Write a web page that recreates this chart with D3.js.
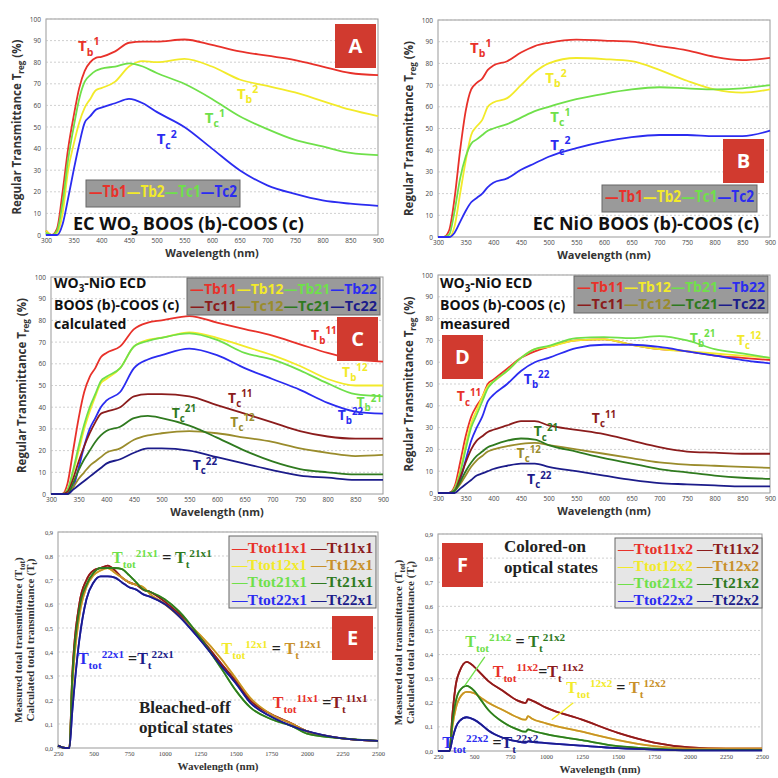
<!DOCTYPE html><html><head><meta charset="utf-8">
<script src="https://cdn.jsdelivr.net/npm/d3@7"></script>
<style>body{margin:0;background:#fff}</style></head><body>
<svg id="c" width="778" height="778"></svg>
<script>
const wlAB=[300,310,320,330,340,350,360,370,380,390,400,425,450,475,500,550,600,650,700,750,800,850,900];
const wlCD=[300,320,330,340,350,360,370,380,390,400,425,450,475,500,550,600,650,700,750,800,850,900];
const wlE=[250,300,330,350,400,450,500,550,600,650,700,750,800,850,900,1000,1100,1250,1400,1500,1600,1750,1900,2000,2250,2500];
const wlF=[250,330,350,375,400,450,500,550,600,700,800,850,860,875,900,1000,1250,1500,1750,2000,2250,2500];
const A_Tb1=[2,0,3,20,40,55,68,76,80,82,82.5,85,89,89.5,89.5,90.5,88,85,83,81,78,75,74];
const A_Tb2=[2,0,1,10,30,42,52,59,63,67,68,71,78,80.5,80,81.5,78,72,69,66,62,58,55];
const A_Tc1=[1,0,2,15,35,50,63,71,74,76,77,78,79.5,78,75,70,63,55,49,44,41,38,37];
const A_Tc2=[0,0,0,5,17,30,42,52,55,58,59,61,63,61,57,50,40,30,23,19,16,14.5,13.5];
const B_Tb1=[0,0,3,18,40,58,68,71,73,77,79,81,85,88,89.5,91,90.5,90,88,86,83,81.5,82.5];
const B_Tb2=[0,0,0,5,20,35,47,51,54,60,62,64,70,76,80,82.5,82,81,77,72,68,66.5,68];
const B_Tc1=[0,0,1,12,27,37,43,45,47,49,50,52,55,58,60,63.5,66,68,69,68.5,68,68.5,70];
const B_Tc2=[0,0,0,2,7,12,16,18,20,23,25,27,31,34,37,41,44,46,47,47,46.5,46.5,49];
const C_Tb11=[0,0,5,20,35,47,54,58,63,65,68,76,79,80,82,79,76,73,69,65,62,61];
const C_Tb12=[0,0,2,10,20,30,38,45,51,53,58,68,71,72,74.5,72,68,64,59,53,50,50];
const C_Tb21=[0,0,2,11,22,32,40,46,52,54,58,68,70.5,72,74,71,65,62,57,51,46,45];
const C_Tb22=[0,0,0,3,12,22,30,35,40,43,47,58,62,64,67,64,58,53,48,42,38,37];
const C_Tc11=[0,0,1,7,15,22,28,33,37,38,40,45,46,46,45,41,37,33,29,26.5,25.5,25.5];
const C_Tc12=[0,0,0,3,7,10,13,15,17,19,21,25,27,28,29,28,26,24,21,19,17.5,18];
const C_Tc21=[0,0,0,5,11,16,20,24,27,29,31,35,36,35,31.5,26,20,15,11.5,10,9,9];
const C_Tc22=[0,0,0,2,4,6,8,10,12,14,16,19,21,21,20,17,14,11,8.5,7.5,6.5,6.5];
const D_Tb11=[0,0,3,14,26,35,40,44,50,52,57,62,65,67,70,70.5,68,66,65,63,62,61];
const D_Tb12=[0,0,2,10,22,32,38,44,49,51,56,62,66,67,70,70.5,68,66,65,64,63,62];
const D_Tb21=[0,0,2,9,20,30,36,42,48,51,56,62,66,67.5,71,71.5,71,72,70,66,64,62];
const D_Tb22=[0,0,1,6,15,24,30,35,42,45,50,56,60,62,66.5,68,68,67,65,63,61,59.5];
const D_Tc11=[0,0,1,7,14,20,24,26,28,29,31,33,33,31,29,27,24,21,19,18.5,18,18];
const D_Tc12=[0,0,1,4,8,12,15,17,19,20,21.5,22.5,23,22,20,18,16,14,13,12.5,12,11.5];
const D_Tc21=[0,0,1,5,10,14,17,19,21,22,24,25,24.5,22,19,16,13.5,11,9.5,8,7,6.5];
const D_Tc22=[0,0,0,2,4,6,8,9,10,11,12.5,13.5,13.5,12,10,8,6,4.5,4,3.5,3,3];
const E_11=[0.01,0,0,0.3,0.6,0.7,0.74,0.75,0.76,0.74,0.71,0.69,0.68,0.66,0.65,0.61,0.56,0.46,0.35,0.28,0.2,0.14,0.1,0.07,0.04,0.03];
const E_12=[0.01,0,0,0.25,0.55,0.67,0.72,0.74,0.75,0.73,0.71,0.69,0.68,0.67,0.64,0.6,0.55,0.47,0.37,0.29,0.21,0.14,0.1,0.07,0.04,0.03];
const E_21=[0.01,0,0,0.28,0.58,0.68,0.73,0.75,0.75,0.75,0.745,0.72,0.69,0.66,0.65,0.62,0.57,0.46,0.33,0.24,0.17,0.12,0.09,0.06,0.04,0.03];
const E_22=[0.01,0,0,0.15,0.45,0.62,0.69,0.715,0.715,0.71,0.69,0.67,0.66,0.64,0.63,0.6,0.55,0.45,0.34,0.27,0.19,0.13,0.09,0.07,0.04,0.03];
const F_11=[0,0,0.15,0.28,0.33,0.37,0.35,0.32,0.29,0.25,0.21,0.2,0.2,0.215,0.21,0.18,0.13,0.075,0.035,0.015,0.01,0.01];
const F_12=[0,0,0.1,0.18,0.22,0.245,0.24,0.22,0.2,0.17,0.14,0.13,0.13,0.145,0.135,0.115,0.08,0.045,0.02,0.01,0.01,0.01];
const F_21=[0,0,0.12,0.21,0.25,0.27,0.25,0.21,0.17,0.12,0.09,0.08,0.08,0.09,0.085,0.07,0.045,0.02,0.01,0.005,0.005,0.005];
const F_22=[0,0,0.05,0.1,0.125,0.14,0.13,0.11,0.085,0.055,0.04,0.035,0.035,0.04,0.038,0.033,0.022,0.012,0.006,0.003,0.003,0.003];
const ticksNm=[300,350,400,450,500,550,600,650,700,750,800,850,900];
const ticksPct=[0,10,20,30,40,50,60,70,80,90,100];
const ticksNir=[250,500,750,1000,1250,1500,1750,2000,2250,2500];
const ticksT=[0,0.1,0.2,0.3,0.4,0.5,0.6,0.7,0.8,0.9];

const col={r:"#e8312a",y:"#f2ea2a",g:"#6fe04a",b:"#2b2cf0",dr:"#8b1c1c",ol:"#9a8c2c",dg:"#2f7a1f",db:"#1c1c8a",tan:"#c8902a"};
const svg=d3.select("#c");
const SANS="'Open Sans',sans-serif", SERIF="'Liberation Serif',serif";

function rich(g,x,y,segs,size,fam,anchor){
  const t=g.append("text").attr("x",x).attr("y",y).attr("font-family",fam).attr("font-weight","bold").attr("font-size",size).attr("text-anchor",anchor||"start");
  let off=0;
  segs.forEach(s=>{
    const [txt,type,c]=s; const target=type==="sub"?size*0.3:type==="sup"?-size*0.4:0;
    t.append("tspan").attr("dy",target-off).attr("font-size",type==="n"?size:size*0.7).attr("fill",c).text(txt);
    off=target;
  });
  return t;
}
function panel(o){
  const g=svg.append("g");
  const x=d3.scaleLinear().domain(o.xd).range([o.l,o.r]);
  const y=d3.scaleLinear().domain(o.yd).range([o.b,o.t]);
  g.append("rect").attr("x",o.l).attr("y",o.t).attr("width",o.r-o.l).attr("height",o.b-o.t).attr("fill","#fff").attr("stroke","#999");
  g.append("g").selectAll("line").data(o.yt.slice(1)).join("line").attr("x1",o.l).attr("x2",o.r).attr("y1",d=>y(d)).attr("y2",d=>y(d)).attr("stroke","#bbb").attr("stroke-dasharray","2,2").attr("stroke-width",0.7);
  const ax=g.append("g").attr("transform",`translate(0,${o.b})`).call(d3.axisBottom(x).tickValues(o.xt).tickSize(0).tickPadding(3).tickFormat(o.xf||d3.format("d")));
  const ay=g.append("g").attr("transform",`translate(${o.l},0)`).call(d3.axisLeft(y).tickValues(o.yt).tickSize(0).tickPadding(5).tickFormat(o.yf||d3.format("d")));
  [ax,ay].forEach(a=>{a.select(".domain").remove();a.selectAll("text").attr("font-size",6.5).attr("fill","#444").attr("font-family",o.serif?SERIF:SANS);});
  const fam=o.serif?SERIF:SANS;
  g.append("text").attr("x",(o.l+o.r)/2).attr("y",o.b+22).attr("text-anchor","middle").attr("font-family",fam).attr("font-weight","bold").attr("font-size",11).attr("fill","#333").text("Wavelength (nm)");
  o.ytitle(g,fam);
  const line=d3.line().x((d,i)=>x(d[0])).y(d=>y(d[1])).curve(d3.curveMonotoneX);
  o.series.forEach(s=>{
    g.append("path").datum(s.wl.map((w,i)=>[w,s.v[i]])).attr("d",line).attr("fill","none").attr("stroke",s.c).attr("stroke-width",1.8);
  });
  (o.ptr||[]).forEach(p=>g.append("line").attr("x1",x(p[0])).attr("y1",y(p[1])).attr("x2",x(p[2])).attr("y2",y(p[3])).attr("stroke",p[4]).attr("stroke-width",1.3));
  (o.ann||[]).forEach(a=>rich(g,x(a.x),y(a.y),a.s,a.size||15,fam));
  return {g,x,y};
}
function badge(x,y,l){svg.append("rect").attr("x",x).attr("y",y).attr("width",41).attr("height",44).attr("fill","#d13a2f");
  svg.append("text").attr("x",x+20.5).attr("y",y+29).attr("text-anchor","middle").attr("fill","#fff").attr("font-family",SANS).attr("font-weight","bold").attr("font-size",20).text(l);}
function legend(x,y,w,h,rows,size,fam){
  svg.append("rect").attr("x",x).attr("y",y).attr("width",w).attr("height",h).attr("fill",fam===SERIF?"#e6e6e6":"#9a9a9a").attr("stroke","#666");
  rows.forEach((r,i)=>{const t=svg.append("text").attr("x",x+3).attr("y",y+size*0.95+i*size*1.12+2).attr("font-family",fam).attr("font-weight","bold").attr("font-size",size).attr("textLength",w-6).attr("lengthAdjust","spacingAndGlyphs");
    r.forEach(s=>t.append("tspan").attr("fill",s[1]).text("\u2014"+s[0]));});
}
const yRegTitle=(l,t,b)=>(g,fam)=>{rich(g,0,0,[["Regular Transmittance T","n","#333"],["reg","sub","#333"],[" (%)","n","#333"]],11.5,fam,"middle").attr("transform",`translate(${l-25},${(t+b)/2}) rotate(-90)`);};
const yTotTitle=(l,t,b)=>(g,fam)=>{
  rich(g,0,0,[["Measured total transmittance (T","n","#333"],["tot","sub","#333"],[")","n","#333"]],11,fam,"middle").attr("transform",`translate(${l-36},${(t+b)/2}) rotate(-90)`);
  rich(g,0,0,[["Calculated total transmittance (T","n","#333"],["t","sub","#333"],[")","n","#333"]],11,fam,"middle").attr("transform",`translate(${l-24},${(t+b)/2}) rotate(-90)`);};
const T=(b,p,c,x,y,size)=>({x,y,size,s:[["T","n",c],[b,"sub",c],[p,"sup",c]]});
const EQ=(n,c1,c2,x,y,eq)=>({x,y,size:16,s:[["T","n",c1],["tot","sub",c1],[n,"sup",c1],[eq||" = ","n","#222"],["T","n",c2],["t","sub",c2],[n,"sup",c2]]});

// A
panel({l:46,r:378,t:19,b:235,xd:[300,900],yd:[0,100],xt:ticksNm,yt:ticksPct,ytitle:yRegTitle(46,19,235),
 series:[{wl:wlAB,v:A_Tb1,c:col.r},{wl:wlAB,v:A_Tb2,c:col.y},{wl:wlAB,v:A_Tc1,c:col.g},{wl:wlAB,v:A_Tc2,c:col.b}],
 ann:[T("b","1",col.r,358,85),T("b","2",col.y,645,63),T("c","1",col.g,587,52),T("c","2",col.b,500,42)]});
legend(86,180,154,27,[[["Tb1",col.r],["Tb2",col.y],["Tc1",col.g],["Tc2",col.b]]],16,SANS);
rich(svg,73,230,[["EC WO","n","#111"],["3","sub","#111"],[" BOOS (b)-COOS (c)","n","#111"]],18,SANS);
badge(335,24,"A");
// B
panel({l:438,r:770,t:20,b:237,xd:[300,900],yd:[0,100],xt:ticksNm,yt:ticksPct,ytitle:yRegTitle(438,20,237),
 series:[{wl:wlAB,v:B_Tb1,c:col.r},{wl:wlAB,v:B_Tb2,c:col.y},{wl:wlAB,v:B_Tc1,c:col.g},{wl:wlAB,v:B_Tc2,c:col.b}],
 ann:[T("b","1",col.r,358,85),T("b","2",col.y,494,71),T("c","1",col.g,503,53),T("c","2",col.b,503,40)]});
legend(602,185,155,27,[[["Tb1",col.r],["Tb2",col.y],["Tc1",col.g],["Tc2",col.b]]],16,SANS);
rich(svg,759,230,[["EC NiO BOOS (b)-COOS (c)","n","#111"]],18,SANS,"end");
badge(723,139,"B");
// C
panel({l:51,r:383,t:277,b:494,xd:[300,900],yd:[0,100],xt:ticksNm,yt:ticksPct,ytitle:yRegTitle(51,277,494),
 series:[{wl:wlCD,v:C_Tb11,c:col.r},{wl:wlCD,v:C_Tb12,c:col.y},{wl:wlCD,v:C_Tb21,c:col.g},{wl:wlCD,v:C_Tb22,c:col.b},
 {wl:wlCD,v:C_Tc11,c:col.dr},{wl:wlCD,v:C_Tc12,c:col.ol},{wl:wlCD,v:C_Tc21,c:col.dg},{wl:wlCD,v:C_Tc22,c:col.db}],
 ann:[T("b","11",col.r,770,71,14),T("b","12",col.y,826,54,14),T("b","21",col.g,852,40,14),T("b","22",col.b,818,34,14),
  T("c","11",col.dr,620,42,14),T("c","12",col.ol,624,31,14),T("c","21",col.dg,518,35,14),T("c","22",col.db,556,11,14)]});
const leg8=[[["Tb11",col.r],["Tb12",col.y],["Tb21",col.g],["Tb22",col.b]],[["Tc11",col.dr],["Tc12",col.ol],["Tc21",col.dg],["Tc22",col.db]]];
legend(187,278,193,37,[leg8[0],leg8[1]],15,SANS);
function cdText(x,w){rich(svg,x,288,[["WO","n","#111"],["3","sub","#111"],["-NiO ECD","n","#111"]],14,SANS);
  rich(svg,x,310,[["BOOS (b)-COOS (c)","n","#111"]],14,SANS);rich(svg,x,329,[[w,"n","#111"]],14,SANS);}
cdText(54,"calculated");
badge(337,317,"C");
// D
panel({l:438,r:770,t:275,b:493,xd:[300,900],yd:[0,100],xt:ticksNm,yt:ticksPct,ytitle:yRegTitle(438,275,493),
 series:[{wl:wlCD,v:D_Tb11,c:col.r},{wl:wlCD,v:D_Tb12,c:col.y},{wl:wlCD,v:D_Tb21,c:col.g},{wl:wlCD,v:D_Tb22,c:col.b},
 {wl:wlCD,v:D_Tc11,c:col.dr},{wl:wlCD,v:D_Tc12,c:col.ol},{wl:wlCD,v:D_Tc21,c:col.dg},{wl:wlCD,v:D_Tc22,c:col.db}],
 ann:[T("b","21",col.g,755,69,14),T("c","12",col.y,840,68,14),T("b","22",col.b,455,50,14),T("c","11",col.r,334,42,14),
  T("c","11",col.dr,578,32,14),T("c","21",col.dg,473,26,14),T("c","12",col.ol,442,16,14),T("c","22",col.db,461,4,14)]});
legend(574,276,194,37,[leg8[0],leg8[1]],15,SANS);
cdText(440,"measured");
badge(442,335,"D");
// E
const fmtC=d=>d3.format(".1f")(d).replace(".",",");
panel({l:58,r:378,t:532,b:748,xd:[250,2500],yd:[0,0.9],xt:ticksNir,yt:ticksT,xf:d3.format("d"),yf:fmtC,serif:true,ytitle:yTotTitle(58,532,748),
 series:[{wl:wlE,v:E_11,c:col.r},{wl:wlE,v:E_12,c:col.y},{wl:wlE,v:E_21,c:col.g},{wl:wlE,v:E_22,c:col.b},
  {wl:wlE,v:E_11,c:col.dr},{wl:wlE,v:E_12,c:col.tan},{wl:wlE,v:E_21,c:col.dg},{wl:wlE,v:E_22,c:col.db}],
 ann:[EQ("21x1",col.g,col.dg,630,0.77),EQ("12x1",col.y,col.tan,1400,0.39),EQ("22x1",col.b,col.db,390,0.35," ="),EQ("11x1",col.r,col.dr,1760,0.165," =")]});
legend(229,536,147,72,[[["Ttot11x1 ",col.r],["Tt11x1",col.dr]],[["Ttot12x1 ",col.y],["Tt12x1",col.tan]],[["Ttot21x1 ",col.g],["Tt21x1",col.dg]],[["Ttot22x1 ",col.b],["Tt22x1",col.db]]],15.5,SERIF);
rich(svg,139,713,[["Bleached-off","n","#222"]],17,SERIF);rich(svg,139,733,[["optical states","n","#222"]],17,SERIF);
badge(332,616,"E");
// F
panel({l:438,r:762,t:534,b:751,xd:[250,2500],yd:[0,0.9],xt:ticksNir,yt:ticksT,xf:d3.format("d"),yf:fmtC,serif:true,ytitle:yTotTitle(438,534,751),
 series:[{wl:wlF,v:F_11,c:col.r},{wl:wlF,v:F_12,c:col.y},{wl:wlF,v:F_21,c:col.g},{wl:wlF,v:F_22,c:col.b},
  {wl:wlF,v:F_11,c:col.dr},{wl:wlF,v:F_12,c:col.tan},{wl:wlF,v:F_21,c:col.dg},{wl:wlF,v:F_22,c:col.db}],
 ptr:[[575,0.39,435,0.27,col.g],[1190,0.2,1040,0.13,col.y]],
 ann:[EQ("21x2",col.g,col.dg,440,0.43),EQ("11x2",col.r,col.dr,630,0.305,"="),EQ("12x2",col.y,col.tan,1140,0.24),EQ("22x2",col.b,col.db,280,0.012," =")]});
legend(615,538,147,70,[[["Ttot11x2 ",col.r],["Tt11x2",col.dr]],[["Ttot12x2 ",col.y],["Tt12x2",col.tan]],[["Ttot21x2 ",col.g],["Tt21x2",col.dg]],[["Ttot22x2 ",col.b],["Tt22x2",col.db]]],15,SERIF);
rich(svg,504,552,[["Colored-on","n","#222"]],17,SERIF);rich(svg,504,573,[["optical states","n","#222"]],17,SERIF);
badge(442,543,"F");
</script></body></html>
